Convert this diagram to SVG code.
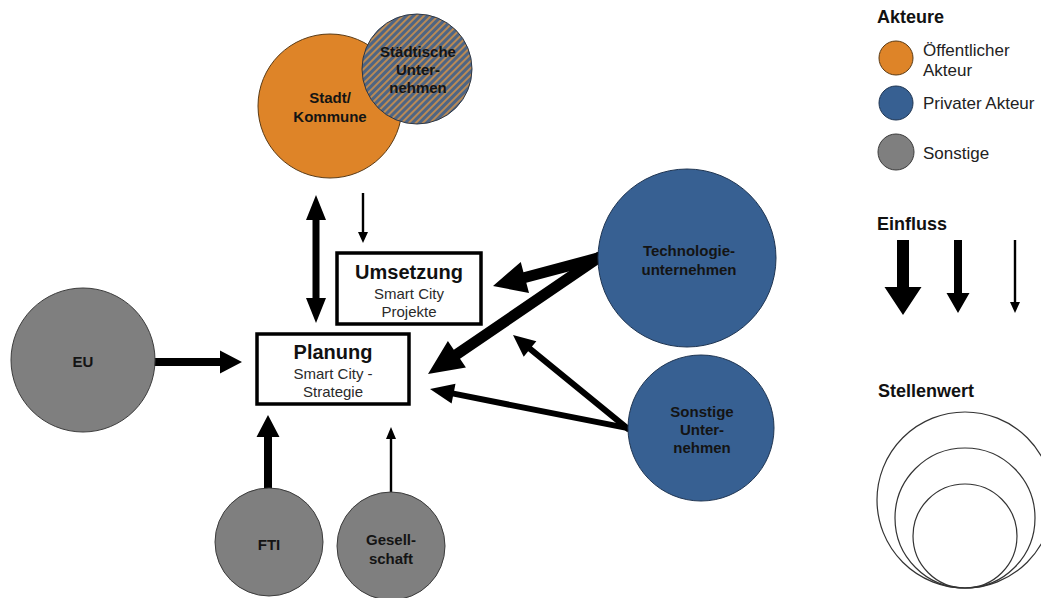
<svg xmlns="http://www.w3.org/2000/svg" width="1041" height="598" viewBox="0 0 1041 598">
  <style>
    .lbl { font-family: "Liberation Sans", Arial, sans-serif; font-weight: bold; font-size: 15px; fill: #141414; text-anchor: middle; }
    .box { fill: #ffffff; stroke: #000000; stroke-width: 3.5; }
    .ttl { font-family: "Liberation Sans", Arial, sans-serif; font-weight: bold; font-size: 20px; fill: #111111; text-anchor: middle; }
    .sub { font-family: "Liberation Sans", Arial, sans-serif; font-size: 15px; fill: #2a2a2a; text-anchor: middle; }
    .pub { fill: #DE8428; stroke: #5a3a14; stroke-width: 1; }
    .prv { fill: #376092; stroke: #1f3552; stroke-width: 1; }
    .oth { fill: #7F7F7F; stroke: #3c3c3c; stroke-width: 1; }
    .head { font-family: "Liberation Sans", Arial, sans-serif; font-weight: bold; font-size: 18px; fill: #111111; }
    .leg { font-family: "Liberation Sans", Arial, sans-serif; font-size: 17px; fill: #222222; }
    .ring { fill: none; stroke: #333333; stroke-width: 1.2; }
    .arr { fill: #000000; }
  </style>
  <defs>
    <!-- diagonal orange / slate stripes for the mixed (public-private) actor -->
    <pattern id="stripes" width="5" height="5" patternUnits="userSpaceOnUse" patternTransform="rotate(45)">
      <rect x="0" y="0" width="5" height="5" fill="#4E6584"/>
      <rect x="0" y="0" width="2" height="5" fill="#B98A55"/>
    </pattern>
  </defs>

  <!-- connectors -->
  <g id="connectors">
    <!-- Stadt/Kommune <-> Planung -->
    <polygon class="arr" points="316,195 326,220 319.5,220 319.5,298 326,298 316,323 306,298 312.5,298 312.5,220 306,220"/>
    <!-- Stadt/Kommune -> Umsetzung -->
    <polygon class="arr" points="363,243 358,232 361.8,232 361.8,193 364.2,193 364.2,232 368,232"/>
    <!-- EU -> Planung -->
    <polygon class="arr" points="242,362 220,350.5 220,358 150,358 150,366 220,366 220,373.5"/>
    <!-- FTI -> Planung -->
    <polygon class="arr" points="268,415 279.5,437 272,437 272,490 264,490 264,437 256.5,437"/>
    <!-- Gesellschaft -> Planung -->
    <polygon class="arr" points="391,427 386,439 389.8,439 389.8,495 392.2,495 392.2,439 396,439"/>
    <!-- Technologieunternehmen -> Umsetzung -->
    <g transform="translate(493 286) rotate(165.07)">
      <polygon class="arr" points="0,0 -33,-16 -33,-5.5 -112,-5.5 -112,5.5 -33,5.5 -33,16"/>
    </g>
    <!-- Technologieunternehmen -> Planung -->
    <g transform="translate(428 374) rotate(145.69)">
      <polygon class="arr" points="0,0 -35,-16 -35,-5.5 -209,-5.5 -209,5.5 -35,5.5 -35,16"/>
    </g>
    <!-- Sonstige Unternehmen -> Umsetzung -->
    <g transform="translate(513 335) rotate(-140.79)">
      <polygon class="arr" points="0,0 -22,-10 -22,-3 -150,-3 -150,3 -22,3 -22,10"/>
    </g>
    <!-- Sonstige Unternehmen -> Planung -->
    <g transform="translate(430 389) rotate(-168.80)">
      <polygon class="arr" points="0,0 -24,-10 -24,-3 -203,-3 -203,3 -24,3 -24,10"/>
    </g>
  </g>

  <!-- actors -->
  <g id="stadt">
    <circle class="pub" cx="330" cy="106" r="72"/>
    <text class="lbl" x="330" y="103">Stadt/</text>
    <text class="lbl" x="330" y="122">Kommune</text>
  </g>
  <g id="staedtische-unternehmen">
    <circle cx="417" cy="69" r="55" fill="url(#stripes)" stroke="#2c3645" stroke-width="1"/>
    <text class="lbl" x="418" y="57">Städtische</text>
    <text class="lbl" x="418" y="75">Unter-</text>
    <text class="lbl" x="418" y="93">nehmen</text>
  </g>
  <g id="eu">
    <circle class="oth" cx="83" cy="360" r="72"/>
    <text class="lbl" x="83" y="367">EU</text>
  </g>
  <g id="technologieunternehmen">
    <circle class="prv" cx="687" cy="258" r="89"/>
    <text class="lbl" x="689" y="256">Technologie-</text>
    <text class="lbl" x="689" y="275">unternehmen</text>
  </g>
  <g id="sonstige-unternehmen">
    <circle class="prv" cx="701" cy="428" r="73"/>
    <text class="lbl" x="702" y="417">Sonstige</text>
    <text class="lbl" x="702" y="435">Unter-</text>
    <text class="lbl" x="702" y="453">nehmen</text>
  </g>
  <g id="fti">
    <circle class="oth" cx="269" cy="542" r="54"/>
    <text class="lbl" x="269" y="550">FTI</text>
  </g>
  <g id="gesellschaft">
    <circle class="oth" cx="391" cy="546" r="54"/>
    <text class="lbl" x="391" y="545">Gesell-</text>
    <text class="lbl" x="391" y="564">schaft</text>
  </g>

  <!-- stages -->
  <g id="umsetzung">
    <rect class="box" x="337" y="253" width="144" height="71"/>
    <text class="ttl" x="409" y="279">Umsetzung</text>
    <text class="sub" x="409" y="299">Smart City</text>
    <text class="sub" x="409" y="317">Projekte</text>
  </g>
  <g id="planung">
    <rect class="box" x="257" y="334" width="152" height="70"/>
    <text class="ttl" x="333" y="359">Planung</text>
    <text class="sub" x="333" y="379">Smart City -</text>
    <text class="sub" x="333" y="397">Strategie</text>
  </g>

  <!-- legend -->
  <g id="legende-akteure">
    <text class="head" x="877" y="23">Akteure</text>
    <circle class="pub" cx="896" cy="58" r="17"/>
    <text class="leg" x="923" y="56">Öffentlicher</text>
    <text class="leg" x="923" y="76">Akteur</text>
    <circle class="prv" cx="896" cy="103" r="17"/>
    <text class="leg" x="923" y="109">Privater Akteur</text>
    <circle class="oth" cx="896" cy="152" r="18"/>
    <text class="leg" x="923" y="159">Sonstige</text>
  </g>
  <g id="legende-einfluss">
    <text class="head" x="877" y="230">Einfluss</text>
    <polygon class="arr" points="903,315 884.5,287 897,287 897,240 909,240 909,287 921.5,287"/>
    <polygon class="arr" points="958,313 946.5,293 954,293 954,240 962,240 962,293 969.5,293"/>
    <polygon class="arr" points="1015,313 1010,302 1013.8,302 1013.8,240 1016.2,240 1016.2,302 1020,302"/>
  </g>
  <g id="legende-stellenwert">
    <text class="head" x="878" y="397">Stellenwert</text>
    <circle class="ring" cx="965" cy="500" r="88"/>
    <circle class="ring" cx="965" cy="518" r="70"/>
    <circle class="ring" cx="965" cy="536" r="52"/>
  </g>
</svg>
